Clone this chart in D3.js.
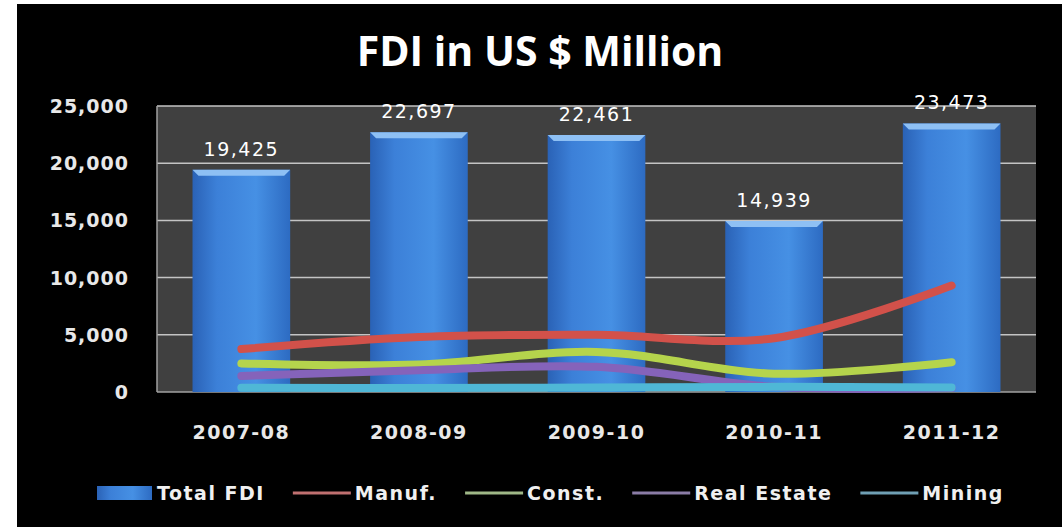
<!DOCTYPE html>
<html>
<head>
<meta charset="utf-8">
<script src="https://cdn.jsdelivr.net/npm/d3@7/dist/d3.min.js"></script>
<style>
  body { margin: 0; background: #fff; }
  svg { display: block; }
</style>
</head>
<body>
<div class="chart"></div>
<script>
let years = ["2007-08", "2008-09", "2009-10", "2010-11", "2011-12"];
let totalFDI = [19425, 22697, 22461, 14939, 23473];
let manuf = [3750, 4800, 5000, 4700, 9300];
let construction = [2500, 2400, 3500, 1600, 2600];
let realEstate = [1400, 1900, 2200, 450, 340];
let mining = [380, 350, 400, 450, 400];
let yTicks = [0, 5000, 10000, 15000, 20000, 25000];

let lineSeries = [
  { name: "Manuf.", values: manuf, color: "#d2514a", legend: "#c07070" },
  { name: "Const.", values: construction, color: "#b5d44c", legend: "#9fb887" },
  { name: "Real Estate", values: realEstate, color: "#8563ba", legend: "#8a7ca6" },
  { name: "Mining", values: mining, color: "#4fb7d6", legend: "#6f9fb4" }
];

let width = 1062;
let height = 527;
let margin = { top: 106, left: 157, right: 26, bottom: 135 };

let svg = d3.select(".chart")
  .append("svg")
  .attr("width", width)
  .attr("height", height);

// black card with a thin white edge on the left/top
svg.append("rect")
  .attr("x", 17).attr("y", 4)
  .attr("width", width - 17).attr("height", height - 4)
  .attr("fill", "#000");

let defs = svg.append("defs");
let grad = defs.append("linearGradient").attr("id", "barGrad")
  .attr("x1", "0").attr("x2", "1").attr("y1", "0").attr("y2", "0");
grad.append("stop").attr("offset", "0%").attr("stop-color", "#2a62b6");
grad.append("stop").attr("offset", "25%").attr("stop-color", "#3c80d8");
grad.append("stop").attr("offset", "65%").attr("stop-color", "#4690e4");
grad.append("stop").attr("offset", "100%").attr("stop-color", "#2d6bc2");

let x = d3.scaleBand()
  .domain(years)
  .range([margin.left, width - margin.right])
  .paddingInner(0.45)
  .paddingOuter(0.2);

let y = d3.scaleLinear()
  .domain([0, 25000])
  .range([height - margin.bottom, margin.top]);

// plot area
svg.append("rect")
  .attr("x", margin.left)
  .attr("y", y(25000))
  .attr("width", width - margin.right - margin.left)
  .attr("height", y(0) - y(25000))
  .attr("fill", "#404040");

svg.append("g")
  .selectAll("line")
  .data(yTicks.filter(d => d > 0))
  .enter()
  .append("line")
  .attr("x1", margin.left)
  .attr("x2", width - margin.right)
  .attr("y1", d => y(d))
  .attr("y2", d => y(d))
  .attr("stroke", "#c4c4c4")
  .attr("stroke-width", 1.5);

svg.append("line")
  .attr("x1", margin.left).attr("x2", margin.left)
  .attr("y1", y(25000)).attr("y2", y(0))
  .attr("stroke", "#a0a0a0").attr("stroke-width", 1.5);
svg.append("line")
  .attr("x1", margin.left).attr("x2", width - margin.right)
  .attr("y1", y(0)).attr("y2", y(0))
  .attr("stroke", "#a0a0a0").attr("stroke-width", 1.5);

// y axis labels
svg.append("g")
  .selectAll("text")
  .data(yTicks)
  .enter()
  .append("text")
  .attr("x", 129)
  .attr("y", d => y(d) + 7)
  .attr("text-anchor", "end")
  .attr("fill", "#e8e8e8")
  .attr("font-family", "DejaVu Sans")
  .attr("font-weight", "bold")
  .attr("font-size", 19)
  .attr("letter-spacing", 1)
  .text(d => d3.format(",")(d));

// bars
let bars = svg.append("g")
  .selectAll("g")
  .data(totalFDI)
  .enter()
  .append("g");

bars.append("rect")
  .attr("x", (d, i) => x(years[i]))
  .attr("y", d => y(d))
  .attr("width", x.bandwidth())
  .attr("height", d => y(0) - y(d))
  .attr("fill", "url(#barGrad)");

bars.append("path")
  .attr("d", (d, i) => {
    let x0 = x(years[i]), x1 = x0 + x.bandwidth(), t = y(d);
    return "M" + x0 + "," + t + "L" + x1 + "," + t +
      "L" + (x1 - 6) + "," + (t + 6) + "L" + (x0 + 6) + "," + (t + 6) + "Z";
  })
  .attr("fill", "#8ec0f4");

bars.append("text")
  .attr("x", (d, i) => x(years[i]) + x.bandwidth() / 2)
  .attr("y", d => y(d) - 14)
  .attr("text-anchor", "middle")
  .attr("fill", "#fff")
  .attr("font-family", "DejaVu Sans")
  .attr("font-size", 19)
  .attr("letter-spacing", 1.5)
  .text(d => d3.format(",")(d));

// lines
let line = d3.line()
  .x((d, i) => x(years[i]) + x.bandwidth() / 2)
  .y(d => y(d))
  .curve(d3.curveCatmullRom.alpha(0.5));

svg.append("g")
  .selectAll("path")
  .data(lineSeries)
  .enter()
  .append("path")
  .attr("d", d => line(d.values))
  .attr("fill", "none")
  .attr("stroke", d => d.color)
  .attr("stroke-width", 8)
  .attr("stroke-linecap", "round")
  .attr("stroke-linejoin", "round");

// category labels
svg.append("g")
  .selectAll("text")
  .data(years)
  .enter()
  .append("text")
  .attr("x", d => x(d) + x.bandwidth() / 2)
  .attr("y", 439)
  .attr("text-anchor", "middle")
  .attr("fill", "#e8e8e8")
  .attr("font-family", "DejaVu Sans")
  .attr("font-weight", "bold")
  .attr("font-size", 19)
  .attr("letter-spacing", 1.5)
  .text(d => d);

// title
svg.append("text")
  .attr("x", 540)
  .attr("y", 66)
  .attr("text-anchor", "middle")
  .attr("fill", "#fff")
  .attr("font-family", "Open Sans")
  .attr("font-weight", "bold")
  .attr("font-size", 41)
  .text("FDI in US $ Million");

// legend
let legend = svg.append("g");
let lx = 97;
let ly = 493;
legend.append("rect")
  .attr("x", lx).attr("y", ly - 7)
  .attr("width", 55).attr("height", 14)
  .attr("fill", "url(#barGrad)");
let t0 = legend.append("text")
  .attr("x", lx + 60).attr("y", ly + 7)
  .attr("fill", "#f0f0f0")
  .attr("font-family", "DejaVu Sans")
  .attr("font-weight", "bold")
  .attr("font-size", 19)
  .attr("letter-spacing", 1.5)
  .text("Total FDI");
lx = lx + 60 + t0.node().getComputedTextLength() + 28;

lineSeries.forEach(function(s) {
  legend.append("line")
    .attr("x1", lx).attr("x2", lx + 58)
    .attr("y1", ly).attr("y2", ly)
    .attr("stroke", s.legend)
    .attr("stroke-width", 3);
  let t = legend.append("text")
    .attr("x", lx + 62).attr("y", ly + 7)
    .attr("fill", "#f0f0f0")
    .attr("font-family", "DejaVu Sans")
    .attr("font-weight", "bold")
    .attr("font-size", 19)
    .attr("letter-spacing", 1.5)
    .text(s.name);
  lx = lx + 62 + t.node().getComputedTextLength() + 28;
});
</script>
</body>
</html>
